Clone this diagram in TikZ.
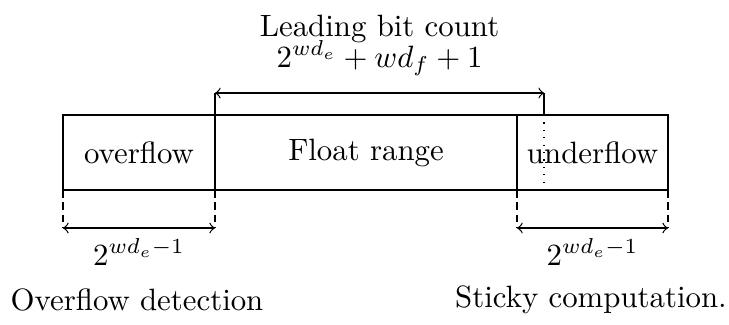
\documentclass[tikz,border=0pt]{standalone}
\usepackage{amsmath}
\usepackage{tikz}
\usetikzlibrary{calc}

\tikzset{
  cell/.style={draw, minimum height=0.855cm, inner sep=0pt, outer sep=0pt, anchor=west},
  guide/.style={dashed, dash pattern=on 2.5pt off 1.5pt}
}

\begin{document}
\begin{tikzpicture}
\useasboundingbox (0,0) rectangle (8.31,3.694);
% the three ranges
\node[cell, minimum width=1.733cm] (ovf) at (0.718,1.955) {overflow};
\node[cell, minimum width=3.443cm] (flt) at (ovf.east) {Float range};
\node[cell, minimum width=1.721cm] (udf) at (flt.east) {underflow};

% leading bit count
\coordinate (lead) at ($(udf.north west)+(0.308,0)$);
\draw[dotted] (lead) -- (lead |- udf.south);
\draw (ovf.north east) -- ++(0,0.251) coordinate (la);
\draw (lead) -- ++(0,0.251) coordinate (lb);
\draw[<->] (la) -- (lb);
\node[align=center, above=2pt] (lbl) at ($(la)!0.5!(lb)$) {Leading bit count\\[-2pt] $2^{wd_e}+wd_f+1$};

% guides below
\draw[guide] (ovf.south west) -- ++(0,-0.433) coordinate (oa);
\draw[guide] (ovf.south east) -- ++(0,-0.433) coordinate (ob);
\draw[guide] (udf.south west) -- ++(0,-0.433) coordinate (ua);
\draw[guide] (udf.south east) -- ++(0,-0.433) coordinate (ub);
\draw[<->] (oa) -- (ob) node[midway, below=0pt] (ovfw) {$2^{wd_e-1}$};
\draw[<->] (ua) -- (ub) node[midway, below=0pt] (udfw) {$2^{wd_e-1}$};

\node (ovfd) at (1.562,0.274) {Overflow detection};
\node (stky) at (6.737,0.274) {Sticky computation.};
\end{tikzpicture}
\end{document}
